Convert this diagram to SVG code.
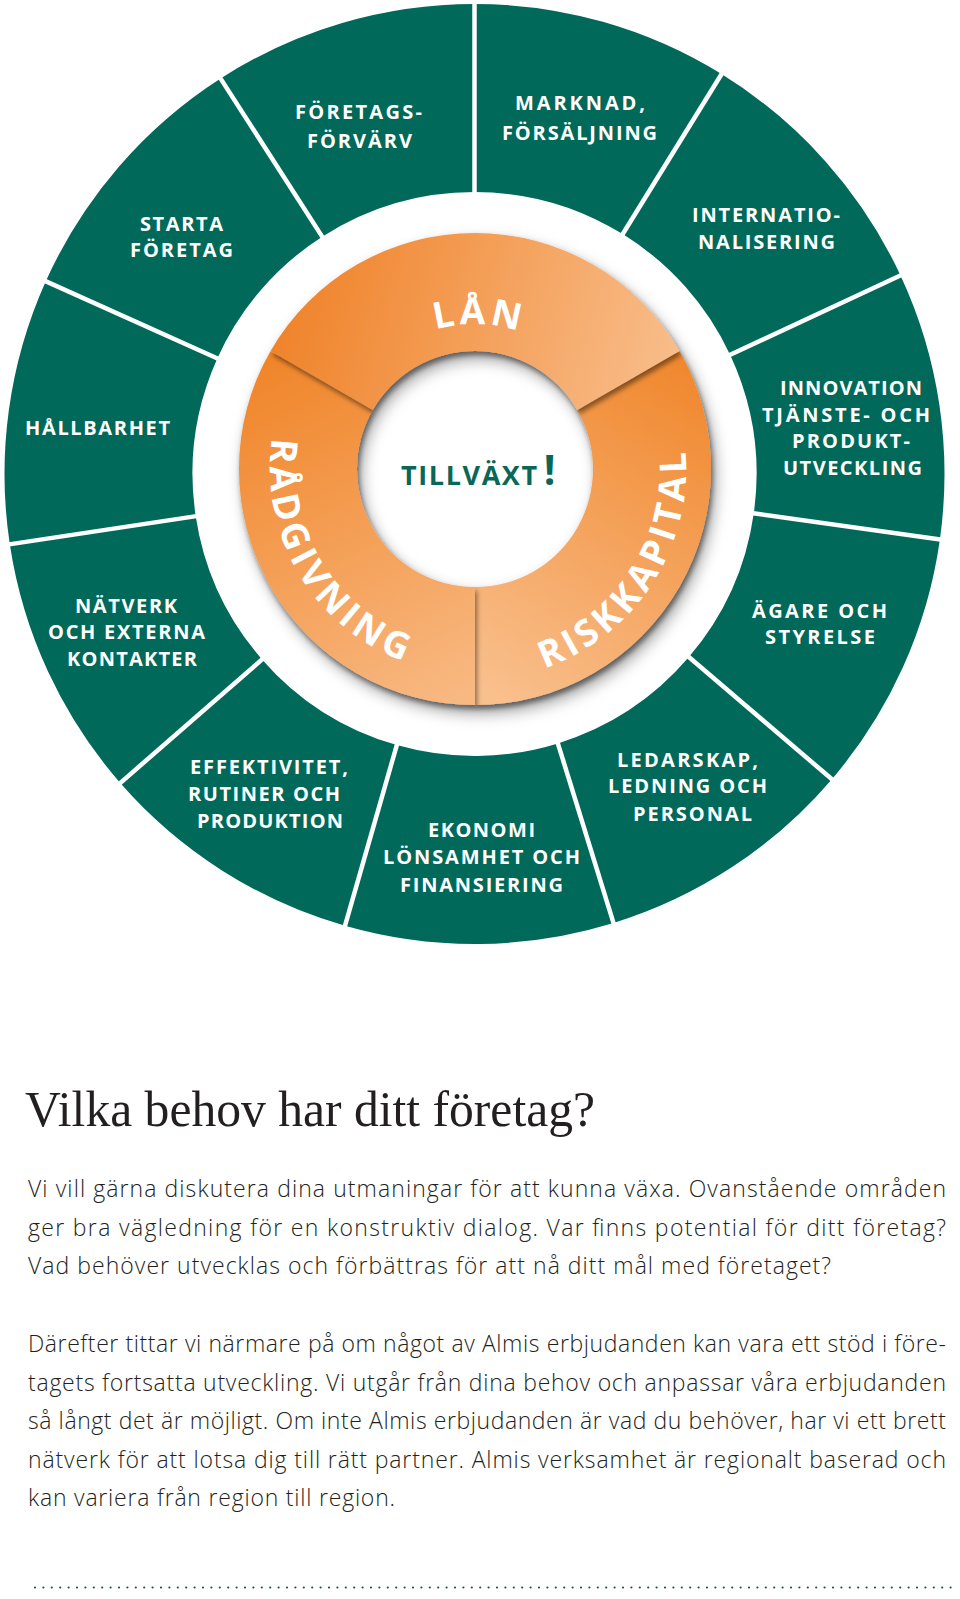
<svg xmlns="http://www.w3.org/2000/svg" width="960" height="1599" viewBox="0 0 960 1599">
<defs>
<style>
.sec{fill:#00695a}
.lbl{font-family:"Open Sans","Noto Sans","DejaVu Sans",sans-serif;font-weight:700;font-size:20px;fill:#ffffff;text-anchor:middle}
.div{stroke:#ffffff;stroke-width:4.5;fill:none}
.big{font-family:"Open Sans","Noto Sans","DejaVu Sans",sans-serif;font-weight:700;font-size:37px;fill:#ffffff}
.mid{font-family:"Open Sans","Noto Sans","DejaVu Sans",sans-serif;font-weight:700;fill:#0a6758}
.body{font-family:"Open Sans","Noto Sans","DejaVu Sans",sans-serif;font-weight:300;font-size:23px;fill:#231f20}
.head{font-family:"Liberation Serif","Times New Roman",serif;font-size:50px;fill:#231f20}
</style>
<linearGradient id="gLan" gradientUnits="userSpaceOnUse" x1="270" y1="300" x2="680" y2="420">
<stop offset="0" stop-color="#ef8127"/><stop offset="1" stop-color="#f9c08f"/>
</linearGradient>
<linearGradient id="gRad" gradientUnits="userSpaceOnUse" x1="280" y1="360" x2="450" y2="700">
<stop offset="0" stop-color="#f0862b"/><stop offset="1" stop-color="#f8b881"/>
</linearGradient>
<linearGradient id="gRisk" gradientUnits="userSpaceOnUse" x1="490" y1="700" x2="700" y2="360">
<stop offset="0" stop-color="#f9c08e"/><stop offset="1" stop-color="#f0862b"/>
</linearGradient>
<filter id="ringShadow" x="-20%" y="-20%" width="140%" height="140%">
<feDropShadow dx="4" dy="7" stdDeviation="7" flood-color="#000000" flood-opacity="0.35"/>
</filter>
<filter id="segShadow" x="-20%" y="-20%" width="140%" height="140%">
<feDropShadow dx="2" dy="4" stdDeviation="2.5" flood-color="#000000" flood-opacity="0.45"/>
</filter>
<path id="pLan" d="M333,439.8 A145,145 0 0,1 618.4,447.8"/>
<path id="pRad" d="M340.5,314.3 A205,205 0 0,0 548.5,660.4"/>
<path id="pRisk" d="M402.8,667.3 A211,211 0 0,0 624.2,319.8"/>
</defs>
<rect x="0" y="0" width="960" height="1599" fill="#ffffff"/>

<g id="n-foretagsforvarv">
<path class="sec" d="M474.5,4 A470,470 0 0,0 220.6,78.5 L322.2,236.7 A282,282 0 0,1 474.5,192 Z"/>
<text class="lbl" x="358.5" y="119" textLength="127" lengthAdjust="spacing">FÖRETAGS-</text>
<text class="lbl" x="359.5" y="148" textLength="105" lengthAdjust="spacing">FÖRVÄRV</text>
</g>
<g id="n-starta-foretag">
<path class="sec" d="M220.6,78.5 A470,470 0 0,0 45.8,281.3 L217.3,358.4 A282,282 0 0,1 322.2,236.7 Z"/>
<text class="lbl" x="181.5" y="231" textLength="83" lengthAdjust="spacing">STARTA</text>
<text class="lbl" x="181.5" y="257" textLength="103" lengthAdjust="spacing">FÖRETAG</text>
</g>
<g id="n-hallbarhet">
<path class="sec" d="M45.8,281.3 A470,470 0 0,0 9.8,544.3 L195.7,516.2 A282,282 0 0,1 217.3,358.4 Z"/>
<text class="lbl" x="97.5" y="435" textLength="145" lengthAdjust="spacing">HÅLLBARHET</text>
</g>
<g id="n-natverk">
<path class="sec" d="M9.8,544.3 A470,470 0 0,0 120.3,783 L262,659.4 A282,282 0 0,1 195.7,516.2 Z"/>
<text class="lbl" x="126" y="613" textLength="102" lengthAdjust="spacing">NÄTVERK</text>
<text class="lbl" x="126.5" y="639" textLength="157" lengthAdjust="spacing">OCH EXTERNA</text>
<text class="lbl" x="132" y="666" textLength="130" lengthAdjust="spacing">KONTAKTER</text>
</g>
<g id="n-effektivitet">
<path class="sec" d="M120.3,783 A470,470 0 0,0 345,925.8 L396.8,745.1 A282,282 0 0,1 262,659.4 Z"/>
<text class="lbl" x="269" y="774" textLength="158" lengthAdjust="spacing">EFFEKTIVITET,</text>
<text class="lbl" x="264" y="801" textLength="152" lengthAdjust="spacing">RUTINER OCH</text>
<text class="lbl" x="270" y="828" textLength="146" lengthAdjust="spacing">PRODUKTION</text>
</g>
<g id="n-ekonomi">
<path class="sec" d="M345,925.8 A470,470 0 0,0 613.5,923 L557.9,743.4 A282,282 0 0,1 396.8,745.1 Z"/>
<text class="lbl" x="481.5" y="837" textLength="107" lengthAdjust="spacing">EKONOMI</text>
<text class="lbl" x="481.5" y="864" textLength="197" lengthAdjust="spacing">LÖNSAMHET OCH</text>
<text class="lbl" x="481.5" y="892" textLength="163" lengthAdjust="spacing">FINANSIERING</text>
</g>
<g id="n-ledarskap">
<path class="sec" d="M613.5,923 A470,470 0 0,0 831.9,779.2 L688.9,657.1 A282,282 0 0,1 557.9,743.4 Z"/>
<text class="lbl" x="687.5" y="767" textLength="141" lengthAdjust="spacing">LEDARSKAP,</text>
<text class="lbl" x="687.5" y="793" textLength="159" lengthAdjust="spacing">LEDNING OCH</text>
<text class="lbl" x="692.5" y="821" textLength="119" lengthAdjust="spacing">PERSONAL</text>
</g>
<g id="n-agare">
<path class="sec" d="M831.9,779.2 A470,470 0 0,0 939.9,539.4 L753.8,513.3 A282,282 0 0,1 688.9,657.1 Z"/>
<text class="lbl" x="819.5" y="618" textLength="135" lengthAdjust="spacing">ÄGARE OCH</text>
<text class="lbl" x="820" y="644" textLength="110" lengthAdjust="spacing">STYRELSE</text>
</g>
<g id="n-innovation">
<path class="sec" d="M939.9,539.4 A470,470 0 0,0 900.5,275.4 L730.1,354.8 A282,282 0 0,1 753.8,513.3 Z"/>
<text class="lbl" x="851" y="395" textLength="142" lengthAdjust="spacing">INNOVATION</text>
<text class="lbl" x="846" y="422" textLength="168" lengthAdjust="spacing">TJÄNSTE- OCH</text>
<text class="lbl" x="851" y="448" textLength="118" lengthAdjust="spacing">PRODUKT-</text>
<text class="lbl" x="852.5" y="475" textLength="139" lengthAdjust="spacing">UTVECKLING</text>
</g>
<g id="n-internationalisering">
<path class="sec" d="M900.5,275.4 A470,470 0 0,0 721.5,74.1 L622.7,234.1 A282,282 0 0,1 730.1,354.8 Z"/>
<text class="lbl" x="766" y="222" textLength="148" lengthAdjust="spacing">INTERNATIO-</text>
<text class="lbl" x="766.5" y="249" textLength="137" lengthAdjust="spacing">NALISERING</text>
</g>
<g id="n-marknad">
<path class="sec" d="M721.5,74.1 A470,470 0 0,0 474.5,4 L474.5,192 A282,282 0 0,1 622.7,234.1 Z"/>
<text class="lbl" x="580" y="110" textLength="130" lengthAdjust="spacing">MARKNAD,</text>
<text class="lbl" x="579.5" y="140" textLength="155" lengthAdjust="spacing">FÖRSÄLJNING</text>
</g>

<g id="connectors">
<line class="div" x1="474.5" y1="196" x2="474.5" y2="0"/>
<line class="div" x1="324.4" y1="240.1" x2="218.4" y2="75.1"/>
<line class="div" x1="220.9" y1="360" x2="42.1" y2="279.6"/>
<line class="div" x1="199.7" y1="515.6" x2="5.8" y2="544.9"/>
<line class="div" x1="265" y1="656.8" x2="117.3" y2="785.6"/>
<line class="div" x1="397.9" y1="741.3" x2="343.9" y2="929.6"/>
<line class="div" x1="556.7" y1="739.6" x2="614.7" y2="926.8"/>
<line class="div" x1="685.9" y1="654.5" x2="834.9" y2="781.8"/>
<line class="div" x1="749.8" y1="512.7" x2="943.9" y2="540"/>
<line class="div" x1="726.5" y1="356.5" x2="904.1" y2="273.7"/>
<line class="div" x1="620.6" y1="237.5" x2="723.6" y2="70.7"/>
</g>

<g id="orange-ring" filter="url(#ringShadow)">
<g id="n-riskkapital">
<path filter="url(#segShadow)" fill="url(#gRisk)" d="M679.4,351 A236,236 0 0,1 475,705 L475,587 A118,118 0 0,0 577.2,410 Z"/>
</g>
<g id="n-radgivning">
<path filter="url(#segShadow)" fill="url(#gRad)" d="M475,705 A236,236 0 0,1 270.6,351 L372.8,410 A118,118 0 0,0 475,587 Z"/>
</g>
<g id="n-lan">
<path filter="url(#segShadow)" fill="url(#gLan)" d="M270.6,351 A236,236 0 0,1 679.4,351 L577.2,410 A118,118 0 0,0 372.8,410 Z"/>
</g>
</g>
<g id="ring-labels">
<text class="big" font-size="38" letter-spacing="4"><textPath href="#pLan" startOffset="50%" text-anchor="middle">LÅN</textPath></text>
<text class="big" letter-spacing="4.5"><textPath href="#pRad" startOffset="50%" text-anchor="middle">RÅDGIVNING</textPath></text>
<text class="big" letter-spacing="4.3"><textPath href="#pRisk" startOffset="50%" text-anchor="middle">RISKKAPITAL</textPath></text>
</g>

<g id="n-tillvaxt">
<text class="mid" x="401" y="485" font-size="27" letter-spacing="1.6">TILLVÄXT<tspan font-size="41" dx="5" letter-spacing="0">!</tspan></text>
</g>

<g id="text-block">
<text class="head" x="25" y="1126" textLength="570" lengthAdjust="spacingAndGlyphs">Vilka behov har ditt företag?</text>
<text class="body" x="28" y="1197" textLength="918" lengthAdjust="spacing">Vi vill gärna diskutera dina utmaningar för att kunna växa. Ovanstående områden</text>
<text class="body" x="28" y="1235.5" textLength="918" lengthAdjust="spacing">ger bra vägledning för en konstruktiv dialog. Var finns potential för ditt företag?</text>
<text class="body" x="28" y="1274" textLength="803" lengthAdjust="spacing">Vad behöver utvecklas och förbättras för att nå ditt mål med företaget?</text>
<text class="body" x="28" y="1352" textLength="918" lengthAdjust="spacing">Därefter tittar vi närmare på om något av Almis erbjudanden kan vara ett stöd i före-</text>
<text class="body" x="28" y="1390.5" textLength="918" lengthAdjust="spacing">tagets fortsatta utveckling. Vi utgår från dina behov och anpassar våra erbjudanden</text>
<text class="body" x="28" y="1429" textLength="918" lengthAdjust="spacing">så långt det är möjligt. Om inte Almis erbjudanden är vad du behöver, har vi ett brett</text>
<text class="body" x="28" y="1467.5" textLength="918" lengthAdjust="spacing">nätverk för att lotsa dig till rätt partner. Almis verksamhet är regionalt baserad och</text>
<text class="body" x="28" y="1506" textLength="367" lengthAdjust="spacing">kan variera från region till region.</text>
</g>
<line x1="35" y1="1587.5" x2="956" y2="1587.5" stroke="#1f4f4a" stroke-width="2.2" stroke-linecap="round" stroke-dasharray="0 8.4"/>
</svg>
